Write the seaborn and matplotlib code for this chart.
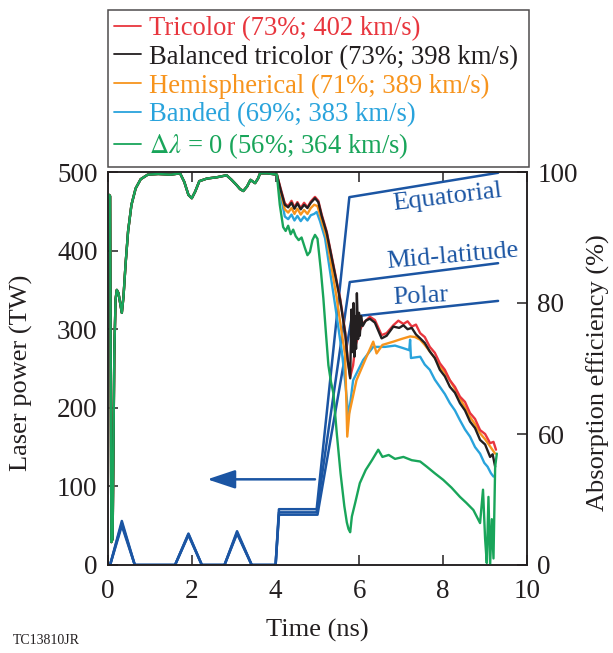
import matplotlib
matplotlib.use("Agg")
import matplotlib.pyplot as plt
import seaborn as sns
from matplotlib.lines import Line2D

# ---------------- data ----------------
# laser pulse shapes (TW) for the three beam rings
pulse_time_eq = [0.05, 0.33, 0.64, 1.60, 1.92, 2.24, 2.78, 3.08, 3.43, 4.00, 4.08, 4.98, 5.76, 9.31]
pulse_eq = [0, 56, 0, 0, 40, 0, 0, 43, 0, 0, 71, 71, 468, 499]
pulse_time_mid = [0.05, 0.33, 0.64, 1.60, 1.92, 2.24, 2.78, 3.08, 3.43, 4.00, 4.08, 4.98, 5.77, 9.31]
pulse_mid = [0, 53, 0, 0, 39, 0, 0, 41, 0, 0, 67, 67, 360, 384]
pulse_time_pol = [0.05, 0.33, 0.64, 1.60, 1.92, 2.24, 2.78, 3.08, 3.43, 4.00, 4.08, 5.00, 5.82, 9.31]
pulse_pol = [0, 50, 0, 0, 38, 0, 0, 40, 0, 0, 64, 64, 316, 336]

ring_names = ["Equatorial", "Mid-latitude", "Polar"]
ring_label_time = [8.09, 8.23, 7.47]
ring_label_power = [468, 393, 341]
ring_label_angle = [7, 5, 3]

# absorption (%) common to all cases before the main drive
t_early = [0.00, 0.03, 0.05, 0.08, 0.11, 0.15, 0.18, 0.21, 0.25, 0.29, 0.33, 0.37,
           0.42, 0.48, 0.56, 0.66, 0.78, 0.95, 1.20, 1.50, 1.72, 1.82, 1.92, 2.00,
           2.08, 2.18, 2.36, 2.60, 2.83, 2.95, 3.07, 3.15, 3.23, 3.32, 3.40, 3.51,
           3.58, 3.63, 3.80, 4.03]
abs_early = [96.0, 96.5, 96.3, 43.5, 44.0, 72.0, 80.5, 82.0, 81.5, 80.0, 78.5, 81.0,
             86.0, 91.0, 95.0, 97.5, 98.9, 99.6, 99.7, 99.6, 99.8, 98.5, 96.5, 96.0,
             97.0, 98.6, 99.0, 99.2, 99.5, 98.8, 98.0, 97.4, 97.1, 97.8, 98.8, 98.3,
             99.0, 99.8, 99.8, 99.6]

t_tricolor = [4.12, 4.22, 4.30, 4.38, 4.45, 4.52, 4.60, 4.68, 4.76, 4.84, 4.94, 5.02,
              5.10, 5.22, 5.38, 5.54, 5.66, 5.72, 5.78, 5.85, 5.90, 6.01, 6.09, 6.25,
              6.37, 6.53, 6.65, 6.81, 6.93, 7.05, 7.15, 7.25, 7.35, 7.45, 7.56, 7.68,
              7.80, 7.92, 8.04, 8.16, 8.28, 8.40, 8.52, 8.64, 8.76, 8.88, 9.00, 9.12,
              9.20, 9.26]
abs_tricolor = [97.5, 95.2, 94.8, 95.6, 94.6, 95.4, 94.5, 95.3, 94.6, 95.5, 96.2, 95.6,
                93.5, 90.9, 85.8, 80.7, 75.6, 71.5, 68.7, 70.5, 73.3, 75.8, 76.9, 77.9,
                77.4, 75.1, 75.4, 76.6, 77.3, 76.8, 77.2, 76.4, 76.7, 75.4, 74.8, 73.3,
                72.4, 70.8, 69.8, 68.2, 67.2, 65.7, 64.9, 63.2, 62.3, 60.6, 60.0, 58.6,
                58.8, 57.6]

t_balanced = [4.12, 4.22, 4.30, 4.38, 4.45, 4.52, 4.60, 4.68, 4.76, 4.84, 4.94, 5.02,
              5.10, 5.22, 5.38, 5.54, 5.66, 5.72, 5.78, 5.81, 5.83, 5.86, 5.88, 5.90,
              5.92, 5.94, 5.97, 5.99, 6.01, 6.04, 6.08, 6.15, 6.25, 6.37, 6.53, 6.65,
              6.81, 6.95, 7.05, 7.15, 7.25, 7.35, 7.45, 7.56, 7.68, 7.80, 7.92, 8.04,
              8.16, 8.28, 8.40, 8.52, 8.64, 8.76, 8.88, 9.00, 9.12, 9.18, 9.24]
abs_balanced = [97.3, 95.0, 94.6, 95.3, 94.4, 95.2, 94.3, 95.0, 94.5, 95.3, 96.0, 95.4,
                93.3, 90.7, 85.6, 80.5, 75.4, 71.3, 68.5, 79.0, 72.5, 80.0, 71.8, 78.0,
                73.0, 81.5, 74.5, 78.5, 75.0, 78.0, 76.5, 77.3, 77.6, 77.0, 74.6, 75.0,
                76.4, 76.2, 76.6, 76.0, 76.2, 75.2, 74.6, 73.9, 72.6, 71.6, 69.8, 68.8,
                67.2, 66.3, 64.7, 63.6, 61.9, 60.9, 59.1, 58.4, 56.5, 56.9, 55.0]

t_hemi = [4.12, 4.22, 4.30, 4.38, 4.45, 4.52, 4.60, 4.68, 4.76, 4.84, 4.92, 5.00,
          5.08, 5.22, 5.46, 5.60, 5.66, 5.71, 5.76, 5.93, 6.17, 6.33, 6.41, 6.55,
          6.81, 7.00, 7.21, 7.33, 7.45, 7.56, 7.68, 7.80, 7.92, 8.04, 8.16, 8.28,
          8.40, 8.52, 8.64, 8.76, 8.88, 9.00, 9.12, 9.24]
abs_hemi = [97.0, 94.3, 93.8, 94.5, 93.6, 94.4, 93.5, 94.2, 93.6, 94.5, 95.0, 94.8,
            93.0, 89.9, 80.7, 74.5, 72.0, 59.6, 63.2, 68.2, 71.8, 74.1, 72.3, 73.6,
            74.1, 74.5, 74.9, 74.8, 74.4, 73.6, 72.6, 71.6, 70.3, 69.4, 68.2, 66.9,
            65.4, 64.1, 62.6, 61.5, 60.1, 59.2, 58.1, 57.0]

t_banded = [4.12, 4.22, 4.30, 4.38, 4.45, 4.52, 4.60, 4.68, 4.76, 4.84, 4.92, 4.98,
            5.06, 5.18, 5.42, 5.58, 5.66, 5.74, 5.85, 6.09, 6.33, 6.61, 6.85, 7.05,
            7.19, 7.21, 7.23, 7.45, 7.56, 7.68, 7.80, 7.92, 8.04, 8.16, 8.28, 8.40,
            8.52, 8.64, 8.76, 8.88, 8.98, 9.06, 9.14, 9.20]
abs_banded = [96.5, 93.2, 92.8, 93.5, 92.6, 93.3, 92.5, 93.2, 92.6, 93.4, 93.6, 93.9,
              92.5, 89.9, 79.7, 72.6, 68.0, 62.6, 68.2, 71.3, 73.3, 73.3, 73.5, 73.1,
              72.8, 74.4, 71.6, 71.8, 70.6, 69.8, 68.3, 67.2, 66.1, 64.7, 63.6, 62.1,
              60.7, 59.6, 58.0, 57.0, 55.6, 55.0, 54.0, 53.5]

t_nodl = [4.10, 4.18, 4.24, 4.30, 4.36, 4.42, 4.48, 4.55, 4.62, 4.70, 4.76, 4.82,
          4.88, 4.94, 5.00, 5.08, 5.14, 5.20, 5.26, 5.32, 5.38, 5.46, 5.55, 5.64,
          5.70, 5.74, 5.78, 5.82, 5.90, 6.01, 6.15, 6.30, 6.45, 6.55, 6.70, 6.85,
          7.05, 7.25, 7.45, 7.61, 7.80, 8.00, 8.20, 8.40, 8.55, 8.72, 8.88, 8.95,
          9.00, 9.04, 9.08, 9.12, 9.16, 9.20, 9.24, 9.28]
abs_nodl = [95.0, 91.6, 91.0, 91.8, 90.5, 91.2, 90.2, 89.6, 90.0, 88.4, 87.3, 87.8,
            89.6, 90.4, 89.8, 85.0, 80.7, 75.5, 70.5, 68.0, 66.2, 60.1, 54.0, 49.0,
            46.5, 45.5, 45.0, 47.4, 49.5, 52.5, 54.5, 56.0, 57.6, 56.5, 56.8, 56.2,
            56.5, 56.0, 55.8, 55.0, 54.0, 53.0, 51.8, 50.4, 49.5, 48.4, 46.4, 51.5,
            44.0, 40.3, 50.4, 40.0, 47.0, 41.0, 55.0, 57.0]

case_labels = ["Tricolor (73%; 402 km/s)",
               "Balanced tricolor (73%; 398 km/s)",
               "Hemispherical (71%; 389 km/s)",
               "Banded (69%; 383 km/s)",
               r"$\Delta\lambda$ = 0 (56%; 364 km/s)"]
case_colors = ["#e8363e", "#231f20", "#f7941d", "#29a3dc", "#19a55a"]

PULSE_COLOR = "#1b55a3"
INK = "#231f20"
FS = 19

# ---------------- style ----------------
sns.set_style("ticks")
plt.rcParams["font.family"] = ["Liberation Serif", "DejaVu Serif"]
plt.rcParams["mathtext.fontset"] = "stix"
plt.rcParams["font.size"] = FS
plt.rcParams["axes.edgecolor"] = INK
plt.rcParams["axes.linewidth"] = 1.1
plt.rcParams["xtick.color"] = INK
plt.rcParams["ytick.color"] = INK
plt.rcParams["text.color"] = INK
plt.rcParams["axes.labelcolor"] = INK

fig = plt.figure(figsize=(6.13, 6.53), dpi=100)
ax = fig.add_axes([108 / 613, 88 / 653, 419 / 613, 393 / 653])
ax2 = ax.twinx()

# pulse shapes on the left axis
for tt, pp in [(pulse_time_eq, pulse_eq), (pulse_time_mid, pulse_mid), (pulse_time_pol, pulse_pol)]:
    sns.lineplot(x=tt, y=pp, ax=ax, color=PULSE_COLOR, lw=1.8, sort=False, estimator=None)

for name, tx, py, ang in zip(ring_names, ring_label_time, ring_label_power, ring_label_angle):
    ax.text(tx, py, name, color=PULSE_COLOR, ha="center", va="center",
            rotation=ang, fontsize=FS)

ax.annotate("", xy=(2.37, 109), xytext=(4.94, 109),
            arrowprops=dict(arrowstyle="-|>,head_length=0.9,head_width=0.3",
                            color=PULSE_COLOR, lw=1.8, shrinkA=0, shrinkB=0))

# absorption traces on the right axis
late = [(t_banded, abs_banded, 3), (t_hemi, abs_hemi, 2), (t_tricolor, abs_tricolor, 0),
        (t_balanced, abs_balanced, 1), (t_nodl, abs_nodl, 4)]
for tt, aa, k in late:
    sns.lineplot(x=t_early + tt, y=abs_early + aa, ax=ax2, color=case_colors[k],
                 lw=1.7, sort=False, estimator=None)

# axes
ax.set_xlim(0, 10)
ax.set_ylim(0, 500)
ax.set_xticks([0, 2, 4, 6, 8, 10])
ax.set_yticks([0, 100, 200, 300, 400, 500])
ax.tick_params(axis="both", direction="in", length=7, width=1.1, top=True,
               labelsize=19.5)
ax.tick_params(axis="x", pad=10)
ax.tick_params(axis="y", pad=7.5)
ax2.set_ylim(40, 100)
ax2.set_yticks([40, 60, 80, 100])
ax2.set_yticklabels(["0", "60", "80", "100"])
ax2.tick_params(axis="y", direction="in", length=7, width=1.1, labelsize=19.5, pad=7.5)

ax.set_xlabel("Time (ns)", fontsize=FS)
ax.set_ylabel("Laser power (TW)", fontsize=FS)
ax2.set_ylabel("Absorption efficiency (%)", fontsize=FS)
ax.xaxis.set_label_coords(0.5, -0.137)
ax.yaxis.set_label_coords(-0.18, 0.49)
ax2.yaxis.set_label_coords(1.143, 0.49)

# legend box above the plot
handles = [Line2D([], [], color=c, lw=1.3) for c in case_colors]
leg = fig.legend(handles, case_labels, loc="upper left",
                 bbox_to_anchor=(108 / 613, 1 - 10 / 653, 421 / 613, 0),
                 mode="expand", fontsize=19.2, frameon=True, fancybox=False,
                 edgecolor=INK, handlelength=1.0, handletextpad=0.3,
                 labelspacing=0.14, borderpad=0.22, borderaxespad=0,
                 labelcolor="linecolor")
leg.get_frame().set_linewidth(1.1)

fig.text(13 / 613, 1 - 641 / 653, "TC13810JR", fontsize=10, va="center", ha="left")

fig.savefig("out.png", dpi=100)
